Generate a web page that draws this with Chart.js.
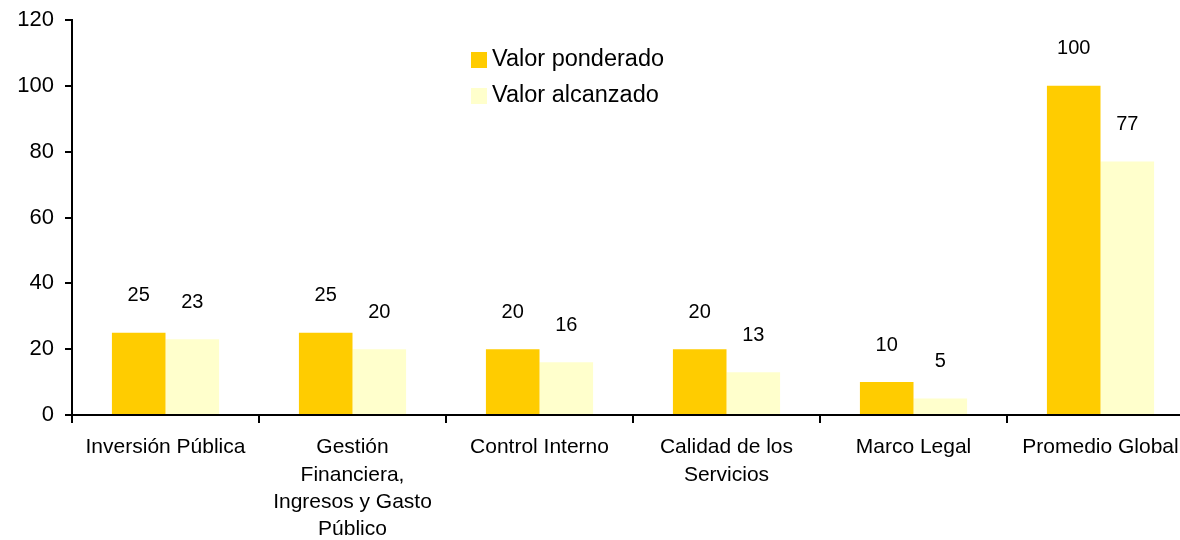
<!DOCTYPE html>
<html>
<head>
<meta charset="utf-8">
<script src="https://cdn.jsdelivr.net/npm/chart.js@4"></script>
<style>
  html, body { margin: 0; padding: 0; background: #fff; overflow: hidden; }
  #wrap { width: 1194px; height: 540px; }
</style>
</head>
<body>
<div id="wrap"><canvas id="chart" width="1194" height="540"></canvas></div>
<script>
const categories = [
  'Inversión Pública',
  ['Gestión', 'Financiera,', 'Ingresos y Gasto', 'Público'],
  'Control Interno',
  ['Calidad de los', 'Servicios'],
  'Marco Legal',
  'Promedio Global',
];
const valorPonderado = [25, 25, 20, 20, 10, 100];
const valorAlcanzado = [23, 20, 16, 13, 5, 77];
const yTicks = [0, 20, 40, 60, 80, 100, 120];

const FONT = 'Arial, "Liberation Sans", sans-serif';

// value labels above each bar
const valueLabels = {
  id: 'valueLabels',
  afterDatasetsDraw(chart) {
    const { ctx } = chart;
    ctx.save();
    ctx.font = '20px ' + FONT;
    ctx.fillStyle = '#000';
    ctx.textAlign = 'center';
    ctx.textBaseline = 'middle';
    chart.data.datasets.forEach((ds, i) => {
      chart.getDatasetMeta(i).data.forEach((bar, j) => {
        ctx.fillText(String(ds.data[j]), bar.x, bar.y - 37);
      });
    });
    ctx.restore();
  },
};

// legend drawn inside the plot, like the original
const insideLegend = {
  id: 'insideLegend',
  afterDraw(chart) {
    const { ctx } = chart;
    ctx.save();
    ctx.font = '23.5px ' + FONT;
    ctx.textBaseline = 'middle';
    chart.data.datasets.forEach((ds, i) => {
      const y = 60 + i * 36;
      ctx.fillStyle = ds.backgroundColor;
      ctx.fillRect(471, y - 8, 16, 16);
      ctx.fillStyle = '#000';
      ctx.fillText(ds.label, 492, y);
    });
    ctx.restore();
  },
};

new Chart(document.getElementById('chart'), {
  type: 'bar',
  data: {
    labels: categories,
    datasets: [
      { label: 'Valor ponderado', data: valorPonderado, backgroundColor: '#FFCC00' },
      { label: 'Valor alcanzado', data: valorAlcanzado, backgroundColor: '#FFFFCC' },
    ],
  },
  options: {
    responsive: false,
    animation: false,
    layout: { padding: { top: 20, right: 0, left: 0, bottom: 0 } },
    datasets: { bar: { barPercentage: 1, categoryPercentage: 0.573 } },
    scales: {
      x: {
        afterFit(scale) { scale.height = 125; },
        grid: { drawOnChartArea: false, drawTicks: true, tickLength: 8, color: '#000', lineWidth: 2 },
        border: { display: true, color: '#000', width: 2 },
        ticks: {
          color: '#000',
          padding: 11,
          maxRotation: 0,
          autoSkip: false,
          font: { family: FONT, size: 21, lineHeight: 1.3 },
        },
      },
      y: {
        min: 0,
        max: 120,
        afterFit(scale) { scale.width = 72; },
        afterBuildTicks(scale) { scale.ticks = yTicks.map((v) => ({ value: v })); },
        grid: { drawOnChartArea: false, drawTicks: true, tickLength: 7, color: '#000', lineWidth: 2 },
        border: { display: true, color: '#000', width: 2 },
        ticks: {
          color: '#000',
          padding: 11,
          font: { family: FONT, size: 22, lineHeight: 0.6 },
        },
      },
    },
    plugins: {
      legend: { display: false },
      tooltip: { enabled: false },
    },
  },
  plugins: [valueLabels, insideLegend],
});
</script>
</body>
</html>
